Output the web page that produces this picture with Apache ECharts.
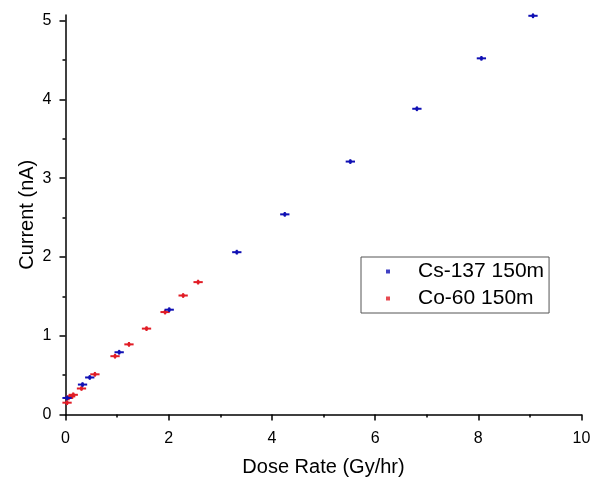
<!DOCTYPE html>
<html>
<head>
<meta charset="utf-8">
<script src="https://cdn.jsdelivr.net/npm/echarts@6/dist/echarts.min.js"></script>
<style>
html,body{margin:0;padding:0;background:#fff;}
#chart{width:602px;height:481px;}
</style>
</head>
<body>
<div id="chart"></div>
<script>
// ---- data ----
var seriesNames = ['Cs-137 150m', 'Co-60 150m'];

var csDose    = [0.03, 0.33, 0.47, 1.04, 2.01, 3.32, 4.25, 5.52, 6.81, 8.06, 9.06];
var csCurrent = [0.21, 0.38, 0.47, 0.79, 1.33, 2.06, 2.54, 3.21, 3.88, 4.52, 5.06];
var csDoseErr = [0.09, 0.09, 0.09, 0.09, 0.09, 0.09, 0.09, 0.09, 0.09, 0.09, 0.09];
var csCurErr  = [0.03, 0.03, 0.03, 0.03, 0.03, 0.03, 0.03, 0.03, 0.03, 0.03, 0.03];

var coDose    = [0.03, 0.06, 0.10, 0.15, 0.31, 0.57, 0.96, 1.23, 1.57, 1.93, 2.28, 2.57];
var coCurrent = [0.15, 0.21, 0.23, 0.25, 0.33, 0.51, 0.74, 0.89, 1.09, 1.30, 1.51, 1.68];
var coDoseErr = [0.09, 0.09, 0.09, 0.09, 0.09, 0.09, 0.09, 0.09, 0.09, 0.09, 0.09, 0.09];
var coCurErr  = [0.03, 0.03, 0.03, 0.03, 0.03, 0.03, 0.03, 0.03, 0.03, 0.03, 0.03, 0.03];

var xTickValues = [0, 2, 4, 6, 8, 10];
var yTickValues = [0, 1, 2, 3, 4, 5];
var yMinorValues = [0.5, 1.5, 2.5, 3.5, 4.5];

var xTitle = 'Dose Rate (Gy/hr)';
var yTitle = 'Current (nA)';

// ---- build ----
var FONT = "'Liberation Sans', Arial, sans-serif";
var BLUE = '#1010b4';
var RED = '#e11d26';

function pts(xs, ys) { return xs.map(function (x, i) { return [x, ys[i]]; }); }
function errPts(xs, ys, ex, ey) { return xs.map(function (x, i) { return [x, ys[i], ex[i], ey[i]]; }); }

function errRender(color) {
  return function (params, api) {
    var x = api.value(0), y = api.value(1), ex = api.value(2), ey = api.value(3);
    var l = api.coord([x - ex, y]);
    var r = api.coord([x + ex, y]);
    var b = api.coord([x, y - ey]);
    var t = api.coord([x, y + ey]);
    var st = { stroke: color, lineWidth: 2 };
    return {
      type: 'group',
      children: [
        { type: 'line', shape: { x1: l[0], y1: l[1], x2: r[0], y2: r[1] }, style: st },
        { type: 'line', shape: { x1: b[0], y1: b[1], x2: t[0], y2: t[1] }, style: st }
      ]
    };
  };
}

var axisLineStyle = { color: '#000', width: 1.5 };
var labelStyle = { color: '#000', fontSize: 16, fontFamily: FONT };
var nameStyle = { color: '#000', fontSize: 20, fontFamily: FONT };

var chart = echarts.init(document.getElementById('chart'), null, { renderer: 'canvas' });
chart.setOption({
  animation: false,
  backgroundColor: '#fff',
  grid: { left: 65.5, right: 20.5, top: 15, bottom: 66.5, containLabel: false, outerBoundsMode: 'none' },
  xAxis: {
    type: 'value', min: 0, max: 10, interval: 2,
    name: xTitle, nameLocation: 'middle', nameGap: 43, nameMoveOverlap: false, nameTextStyle: nameStyle,
    axisLine: { show: true, lineStyle: axisLineStyle },
    axisTick: { show: true, inside: false, length: 6, lineStyle: axisLineStyle, customValues: xTickValues },
    minorTick: { show: true, splitNumber: 2, length: 3, lineStyle: axisLineStyle },
    axisLabel: { margin: 16, customValues: xTickValues, ...labelStyle },
    splitLine: { show: false },
    minorSplitLine: { show: false }
  },
  yAxis: [{
    type: 'value', min: 0, max: 5.07,
    name: yTitle, nameLocation: 'middle', nameGap: 28, nameMoveOverlap: false, nameTextStyle: nameStyle,
    axisLine: { show: true, onZero: false, lineStyle: axisLineStyle },
    axisTick: { show: true, inside: false, length: 6, lineStyle: axisLineStyle, customValues: yTickValues },
    axisLabel: { margin: 14, customValues: yTickValues, ...labelStyle },
    splitLine: { show: false }
  }, {
    type: 'value', min: 0, max: 5.07, position: 'left',
    axisLine: { show: false },
    axisTick: { show: true, inside: false, length: 3, lineStyle: axisLineStyle, customValues: yMinorValues },
    axisLabel: { show: false },
    splitLine: { show: false }
  }],
  legend: {
    data: seriesNames,
    orient: 'vertical',
    left: 361, top: 257,
    padding: [4, 5, 4, 25],
    itemGap: 6,
    itemWidth: 4, itemHeight: 4,
    icon: 'rect',
    borderColor: '#555', borderWidth: 1,
    textStyle: { color: '#000', fontSize: 21, fontFamily: FONT, padding: [0, 0, 0, 23] }
  },
  series: [
    {
      name: 'co-err', type: 'custom', renderItem: errRender(RED),
      data: errPts(coDose, coCurrent, coDoseErr, coCurErr), z: 2
    },
    {
      name: seriesNames[1], type: 'scatter', symbol: 'rect', symbolSize: 3,
      itemStyle: { color: RED }, data: pts(coDose, coCurrent), z: 3
    },
    {
      name: 'cs-err', type: 'custom', renderItem: errRender(BLUE),
      data: errPts(csDose, csCurrent, csDoseErr, csCurErr), z: 4
    },
    {
      name: seriesNames[0], type: 'scatter', symbol: 'rect', symbolSize: 3,
      itemStyle: { color: BLUE }, data: pts(csDose, csCurrent), z: 5
    }
  ]
});
</script>
</body>
</html>
